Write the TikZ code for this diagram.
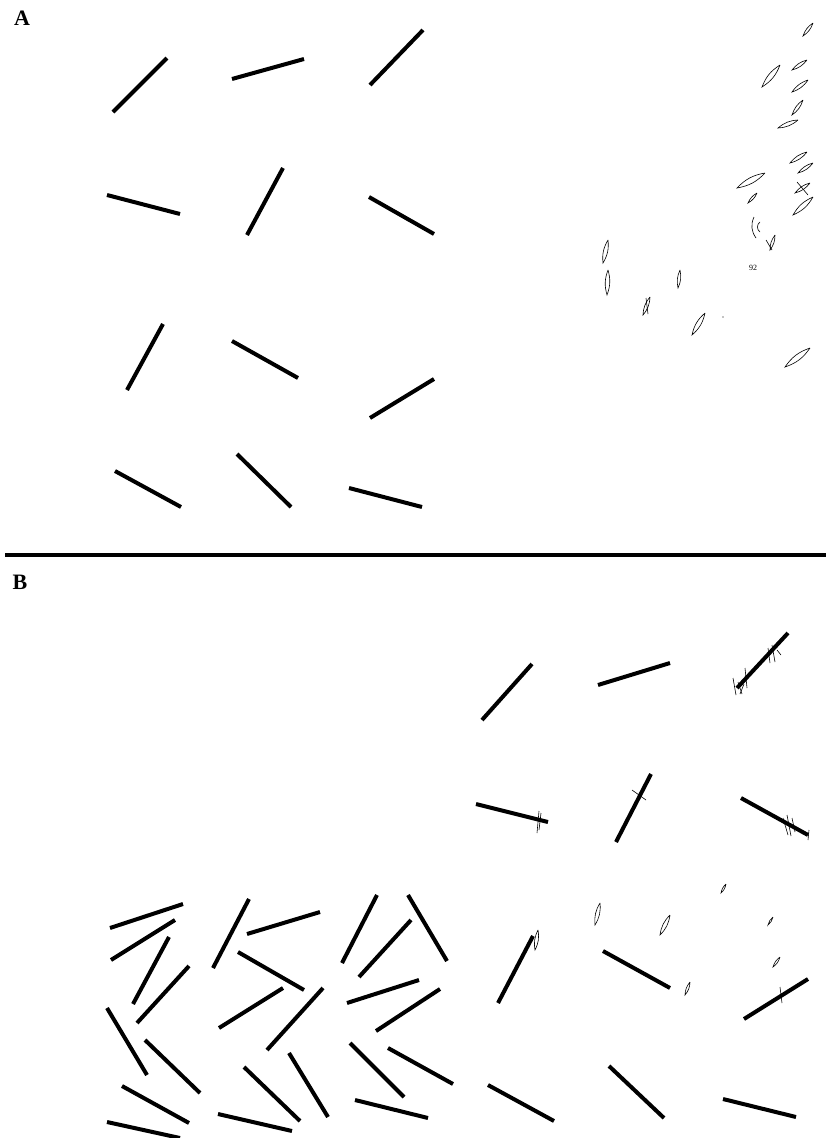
\documentclass[tikz,border=0pt]{standalone}
\usepackage{fontspec}
\setmainfont{Liberation Serif}
\begin{document}
\begin{tikzpicture}[x=1pt,y=-1pt,
  seg/.style={line width=4pt,black},
  scrib/.style={line width=0.6pt,black},
  leaf/.style={line width=0.6pt,black},
  panel/.style={font=\bfseries\fontsize{22}{22}\selectfont,inner sep=0pt}]
\useasboundingbox[fill=white] (0,0) rectangle (826,1138);
\newcommand{\lf}[4]{\draw[leaf] (#1,#2) to[bend left=18] (#3,#4) to[bend left=18] (#1,#2);}
% labels
\node[panel] (labA) at (22,18) {A};
\node[panel] (labB) at (20,582) {B};
% divider
\draw[line width=4pt] (5,555) -- (826,555);
% panel A segments
\draw[seg] (113,112) -- (167,58);
\draw[seg] (232,79) -- (304,59);
\draw[seg] (423,30) -- (370,85);
\draw[seg] (107,195) -- (180,214);
\draw[seg] (283,168) -- (247,235);
\draw[seg] (369,197) -- (434,234);
\draw[seg] (163,324) -- (127,390);
\draw[seg] (232,341) -- (298,378);
\draw[seg] (434,379) -- (370,418);
\draw[seg] (115,471) -- (181,507);
\draw[seg] (237,454) -- (291,507);
\draw[seg] (349,488) -- (422,507);
% panel A scribbles
\lf{813}{23}{803}{36}
\lf{780}{65}{762}{87}
\lf{807}{60}{792}{70}
\lf{808}{80}{792}{92}
\lf{803}{100}{792}{115}
\lf{798}{120}{778}{128}
\lf{807}{152}{790}{163}
\lf{813}{163}{798}{173}
\lf{765}{173}{737}{188}
\lf{757}{193}{748}{203}
\lf{810}{183}{795}{193}
\draw[scrib] (797,182) -- (808,195);
\lf{813}{197}{793}{215}
\draw[scrib] (754,217) to[bend right=30] (756,238);
\draw[scrib] (760,222) to[bend right=60] (760,232);
\lf{775}{235}{770}{250}
\draw[scrib] (766,240) -- (772,250);
\node[inner sep=0pt,font=\fontsize{8}{8}\selectfont] (n92) at (753,268) {92};
\lf{608}{240}{603}{263}
\lf{608}{270}{607}{295}
\lf{680}{270}{678}{288}
\lf{650}{297}{643}{315}
\draw[scrib] (646,298) -- (648,314);
\lf{705}{313}{692}{335}
\fill (723,317) circle (0.6);
\lf{810}{348}{785}{367}
% panel B right segments
\draw[seg] (532,664) -- (482,720);
\draw[seg] (598,685) -- (670,663);
\draw[seg] (788,633) -- (737,688);
\draw[seg] (476,804) -- (548,822);
\draw[seg] (651,774) -- (616,842);
\draw[seg] (741,798) -- (808,835);
\draw[seg] (533,936) -- (498,1003);
\draw[seg] (603,951) -- (670,988);
\draw[seg] (808,979) -- (744,1019);
\draw[seg] (488,1085) -- (554,1121);
\draw[seg] (609,1066) -- (664,1118);
\draw[seg] (723,1099) -- (796,1117);
% panel B scribbles
\draw[scrib] (733,678) -- (736,695);
\draw[scrib] (738,682) -- (742,694);
\draw[scrib] (744,684) -- (740,694);
\draw[scrib] (745,668) -- (747,688);
\draw[scrib] (768,648) -- (770,663);
\draw[scrib] (772,645) -- (775,662);
\draw[scrib] (777,650) -- (781,655);
\draw[scrib] (539,811) -- (537,833);
\draw[scrib] (541,813) -- (539,830);
\draw[scrib] (632,790) -- (646,800);
\draw[scrib] (783,818) -- (788,835);
\draw[scrib] (787,815) -- (791,836);
\draw[scrib] (792,818) -- (795,832);
\draw[scrib] (809,830) -- (808,840);
\lf{600}{903}{595}{925}
\lf{670}{915}{660}{935}
\lf{726}{884}{721}{893}
\lf{773}{917}{768}{925}
\lf{780}{957}{773}{967}
\lf{690}{982}{685}{995}
\lf{538}{930}{535}{950}
\draw[scrib] (780,987) -- (782,1003);
% panel B left cluster
\draw[seg] (110,928) -- (183,904);
\draw[seg] (111,960) -- (175,920);
\draw[seg] (169,937) -- (133,1004);
\draw[seg] (189,966) -- (137,1023);
\draw[seg] (107,1008) -- (147,1075);
\draw[seg] (145,1040) -- (200,1093);
\draw[seg] (122,1086) -- (189,1123);
\draw[seg] (107,1122) -- (180,1138);
\draw[seg] (249,899) -- (213,968);
\draw[seg] (247,934) -- (320,912);
\draw[seg] (238,952) -- (304,990);
\draw[seg] (283,988) -- (219,1028);
\draw[seg] (323,988) -- (267,1050);
\draw[seg] (244,1067) -- (300,1121);
\draw[seg] (289,1053) -- (328,1117);
\draw[seg] (218,1114) -- (292,1131);
\draw[seg] (377,895) -- (342,963);
\draw[seg] (408,895) -- (447,961);
\draw[seg] (411,920) -- (359,977);
\draw[seg] (347,1003) -- (419,980);
\draw[seg] (440,989) -- (376,1031);
\draw[seg] (350,1043) -- (404,1097);
\draw[seg] (388,1048) -- (453,1084);
\draw[seg] (355,1100) -- (428,1118);
\end{tikzpicture}
\end{document}
